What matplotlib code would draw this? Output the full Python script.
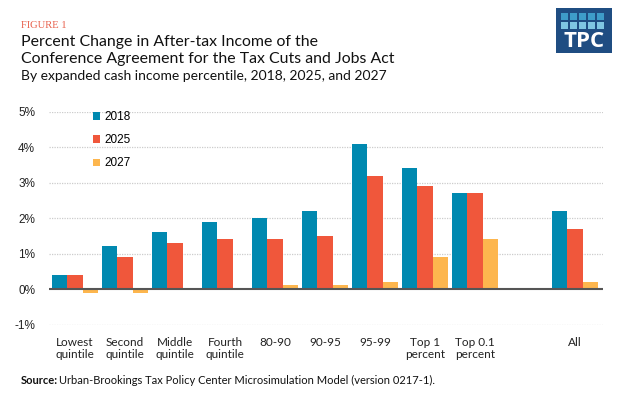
import matplotlib
matplotlib.use("Agg")
import matplotlib.pyplot as plt
from matplotlib.patches import Rectangle
import numpy as np

categories = ["Lowest\nquintile", "Second\nquintile", "Middle\nquintile", "Fourth\nquintile",
              "80-90", "90-95", "95-99", "Top 1\npercent", "Top 0.1\npercent", "", "All"]
series_names = ["2018", "2025", "2027"]
v2018 = [0.4, 1.2, 1.6, 1.9, 2.0, 2.2, 4.1, 3.4, 2.7, None, 2.2]
v2025 = [0.4, 0.9, 1.3, 1.4, 1.4, 1.5, 3.2, 2.9, 2.7, None, 1.7]
v2027 = [-0.1, -0.1, 0.0, 0.0, 0.1, 0.1, 0.2, 0.9, 1.4, None, 0.2]
yticks = [-1, 0, 1, 2, 3, 4, 5]
ytick_labels = ["-1%", "0%", "1%", "2%", "3%", "4%", "5%"]
colors = ["#0089B0", "#F0573B", "#FDB64E"]

W, H = 630, 398
fig = plt.figure(figsize=(W / 100, H / 100), dpi=100)
fig.patch.set_facecolor("white")

def fx(px):
    return px / W

def fy(py):
    return 1 - py / H

ax = fig.add_axes([fx(49), fy(324.5), fx(603) - fx(49), fy(111.7) - fy(324.5)])
ax.set_xlim(-0.52, 10.56)
ax.set_ylim(-1, 5)

x = np.arange(len(categories))
bw = 0.306
handles = []
for i, (vals, c, name) in enumerate(zip([v2018, v2025, v2027], colors, series_names)):
    xs = [xi + (i - 1) * bw for xi, v in zip(x, vals) if v is not None]
    ys = [v for v in vals if v is not None]
    b = ax.bar(xs, ys, width=bw, color=c, label=name, zorder=3, linewidth=0)
    handles.append(b)

for t in yticks:
    if t != 0:
        ax.axhline(t, color="#cccccc", linestyle=(0, (1, 1)), linewidth=0.9, zorder=1)
ax.axhline(0, color="#555555", linewidth=1.5, zorder=4)

for s in ax.spines.values():
    s.set_visible(False)
ax.set_yticks(yticks)
ax.set_yticklabels(ytick_labels, fontsize=8.5, family="Liberation Sans", color="#222222")
ax.tick_params(axis="y", length=0, pad=10)
ax.set_xticks(x)
ax.set_xticklabels(categories, fontsize=8.5, family="Lato", color="#222222", linespacing=1.15)
ax.tick_params(axis="x", length=0, pad=9)

leg = ax.legend(handles=handles, loc="upper left", bbox_to_anchor=(fx(93), fy(111)),
                bbox_transform=fig.transFigure, frameon=False,
                prop={"family": "Liberation Sans", "size": 8.5},
                handlelength=0.6, handleheight=0.6, handletextpad=0.35,
                labelspacing=0.95, borderpad=0, borderaxespad=0)

# Titles
fig.text(fx(21), fy(25), "FIGURE 1", fontsize=7.6, family="Liberation Serif",
         color="#E8604C", va="center", ha="left")
fig.text(fx(21), fy(42), "Percent Change in After-tax Income of the",
         fontsize=11.4, family="Lato", color="#111111", va="center", ha="left")
fig.text(fx(21), fy(59.5), "Conference Agreement for the Tax Cuts and Jobs Act",
         fontsize=11.4, family="Lato", color="#111111", va="center", ha="left")
fig.text(fx(21), fy(76), "By expanded cash income percentile, 2018, 2025, and 2027",
         fontsize=10.0, family="Lato", color="#111111", va="center", ha="left")

# Source
src_bold = fig.text(fx(21), fy(380), "Source:", fontsize=8.0, family="Lato", weight="bold",
                    color="#111111", va="center", ha="left")
fig.canvas.draw()
bb = src_bold.get_window_extent()
fig.text(bb.x1 / W + fx(1), fy(380), "Urban-Brookings Tax Policy Center Microsimulation Model (version 0217-1).",
         fontsize=8.0, family="Lato", color="#111111", va="center", ha="left")

# Logo
fig.patches.append(Rectangle((fx(556), fy(53)), fx(612) - fx(556), fy(8) - fy(53),
                             transform=fig.transFigure, facecolor="#1F4D82", edgecolor="none"))
sq_w = 7.2
gap = 1.7
for r, col in enumerate(["#3E9CC8", "#7FC6E2"]):
    for c in range(5):
        x0 = 561 + c * (sq_w + gap)
        y0 = 13 + r * (sq_w + gap)
        fig.patches.append(Rectangle((fx(x0), fy(y0 + sq_w)), sq_w / W, sq_w / H,
                                     transform=fig.transFigure, facecolor=col, edgecolor="none"))
fig.text(fx(584), fy(41.5), "TPC", fontsize=16, family="Open Sans", weight="bold",
         color="white", ha="center", va="center")

fig.savefig("out.png", dpi=100, facecolor="white")
